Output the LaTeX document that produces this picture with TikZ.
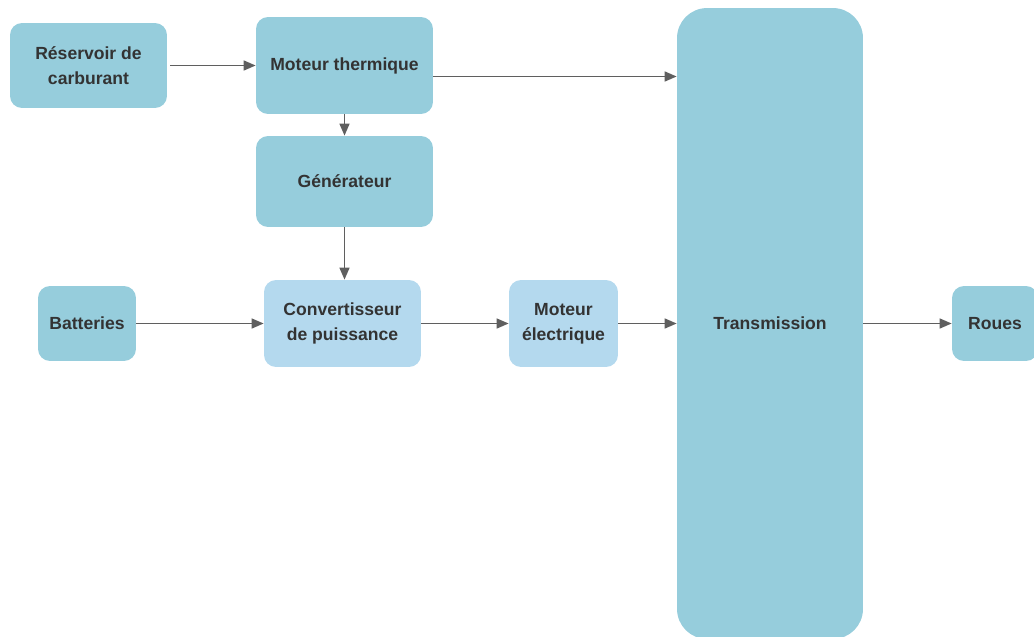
\documentclass[tikz,border=0pt]{standalone}
\usepackage{fontspec}
\setmainfont{Liberation Sans}
\usetikzlibrary{arrows.meta}

\definecolor{boxblue}{RGB}{150,205,220}
\definecolor{convblue}{RGB}{180,217,238}
\definecolor{linegray}{RGB}{95,95,95}
\definecolor{textgray}{RGB}{51,51,51}

\begin{document}
\begin{tikzpicture}[x=0.02cm, y=-0.02cm,
  block/.style={fill=boxblue, rounded corners=0.24cm, inner sep=0pt, align=center,
    font=\bfseries\fontsize{10}{14}\selectfont, text=textgray},
  lightblock/.style={block, fill=convblue},
  flow/.style={draw=linegray, line width=1pt, -{Triangle[length=6.8pt,width=5.6pt]}}]
\useasboundingbox (0,0) rectangle (1034,636);
\clip (0,0) rectangle (1034,636);

% top row
\node [block, minimum width=3.14cm, minimum height=1.7cm] (res) at (88.5,65.5) {Réservoir de\\carburant};
\node [block, minimum width=3.54cm, minimum height=1.94cm] (mth) at (344.5,65.5) {Moteur thermique};
\node [block, minimum width=3.54cm, minimum height=1.82cm] (gen) at (344.5,181.5) {Générateur};

% middle row
\node [block, minimum width=1.96cm, minimum height=1.5cm] (bat) at (87,323.5) {Batteries};
\node [lightblock, minimum width=3.14cm, minimum height=1.74cm] (conv) at (342.5,323.5) {Convertisseur\\de puissance};
\node [lightblock, minimum width=2.18cm, minimum height=1.74cm] (mel) at (563.5,323.5) {Moteur\\électrique};
\node [block, rounded corners=0.6cm, minimum width=3.72cm, minimum height=12.62cm] (tr) at (770,323.5) {Transmission};
\node [block, minimum width=1.72cm, minimum height=1.5cm] (rou) at (995,323.5) {Roues};

% connectors
\draw [flow] ([xshift=1.7pt]res.east) -- (mth.west);
\draw [flow] ([yshift=-0.22cm]mth.east) -- ([yshift=-0.22cm]mth.east -| tr.west);
\draw [flow] (mth.south) -- (gen.north);
\draw [flow] (gen.south) -- (gen.south |- conv.north);
\draw [flow] (bat.east) -- (conv.west);
\draw [flow] (conv.east) -- (mel.west);
\draw [flow] (mel.east) -- (mel.east -| tr.west);
\draw [flow] (tr.east |- rou.west) -- (rou.west);
\end{tikzpicture}
\end{document}
